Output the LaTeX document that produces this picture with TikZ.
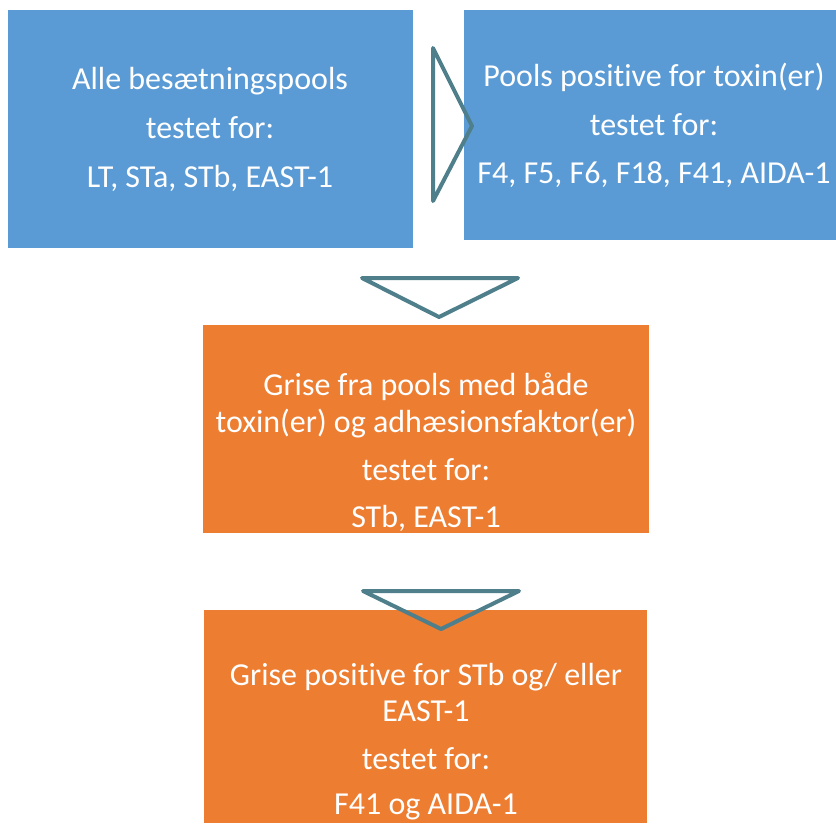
\documentclass[tikz,border=0pt]{standalone}
\usepackage{fontspec}
\setmainfont{Carlito}[Ligatures={NoCommon}]
\usetikzlibrary{positioning}

\definecolor{boxblue}{HTML}{5B9BD5}
\definecolor{boxorange}{HTML}{ED7D31}
\definecolor{arrowteal}{HTML}{507F8C}

\begin{document}
\begin{tikzpicture}[x=1pt,y=-1pt]
\tikzstyle{every node}=[inner sep=0pt, outer sep=0pt]
\tikzstyle{box}=[draw=none, anchor=north west]
\tikzstyle{txt}=[anchor=base, text=white, font=\fontsize{32}{36}\selectfont]
\tikzstyle{tri}=[draw=arrowteal, line width=4pt, line join=round, line cap=round]

\useasboundingbox (0,0) rectangle (836,823);

% boxes
\node[box, fill=boxblue, minimum width=405pt, minimum height=238pt] (B1) at (8,10) {};
\node[box, fill=boxblue, minimum width=372pt, minimum height=230pt] (B2) at (464,10) {};
\node[box, fill=boxorange, minimum width=446pt, minimum height=208pt] (B3) at (203,325) {};
\node[box, fill=boxorange, minimum width=443pt, minimum height=213pt] (B4) at (204,610) {};

% texts
\node[txt] (t11) at (210,89) {Alle besætningspools};
\node[txt] (t12) at (210,138) {testet for:};
\node[txt] (t13) at (210,187) {LT, STa, STb, EAST-1};

\node[txt] (t21) at (654,86) {Pools positive for toxin(er)};
\node[txt] (t22) at (654,135) {testet for:};
\node[txt] (t23) at (654,183) {F4, F5, F6, F18, F41, AIDA-1};

\node[txt] (t31) at (426,395) {Grise fra pools med både};
\node[txt] (t32) at (426,432) {toxin(er) og adhæsionsfaktor(er)};
\node[txt] (t33) at (426,480) {testet for:};
\node[txt] (t34) at (426,527) {STb, EAST-1};

\node[txt] (t41) at (426,685) {Grise positive for STb og/ eller};
\node[txt] (t42) at (426,721) {EAST-1};
\node[txt] (t43) at (426,769) {testet for:};
\node[txt] (t44) at (426,814) {F41 og AIDA-1};

% arrows
\draw[tri] (433,48) -- (472,126) -- (433,201) -- cycle;
\draw[tri] (362,278) -- (518,278) -- (439,317) -- cycle;
\draw[tri] (363,591) -- (519,591) -- (441,629) -- cycle;
\end{tikzpicture}
\end{document}
